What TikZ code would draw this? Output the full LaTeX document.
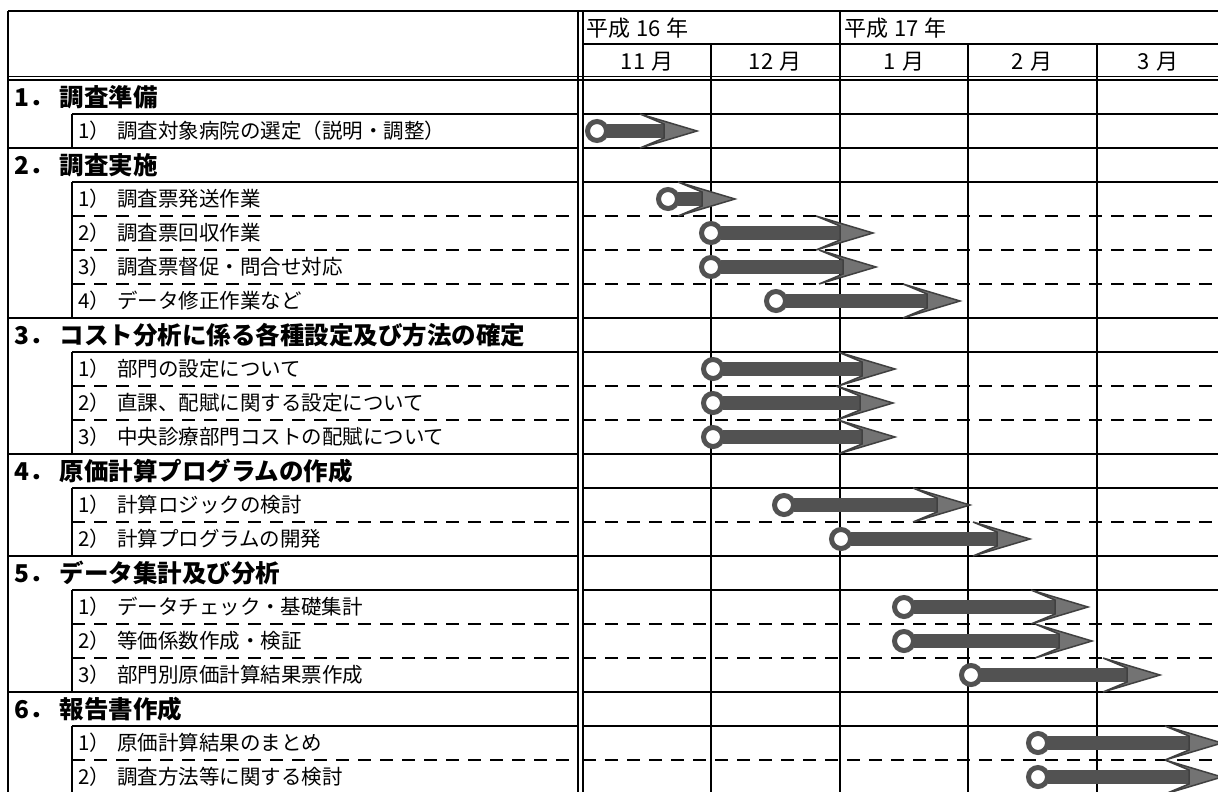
\documentclass[tikz,border=0pt]{standalone}
\usepackage{fontspec}
\newfontfamily\jp{Noto Sans CJK JP}
% #1 = left of ring, #2 = tip, #3 = row centre
\newcommand{\garrow}[3]{%
  \fill[gshaft] ({#1+21},{#3-7}) rectangle ({#2-33},{#3+7});
  \filldraw[ghead] ({#2-57},{#3-17}) -- (#2,#3) -- ({#2-57},{#3+17}) -- ({#2-33},{#3+7}) -- ({#2-33},{#3-7}) -- cycle;
  \draw[gring] ({#1+11},#3) circle (9.5pt);
}
\begin{document}
\begin{tikzpicture}[x=1pt,y=-1pt,
  tl/.style={line width=1.8pt},
  dl/.style={line width=1.8pt, dash pattern=on 13pt off 9pt},
  gtitle/.style={anchor=west, inner sep=0pt, font=\jp\bfseries\fontsize{24.5}{28}\selectfont},
  gsub/.style={anchor=west, inner sep=0pt, font=\jp\fontsize{20.5}{24}\selectfont},
  ghdr/.style={inner sep=0pt, font=\jp\fontsize{22}{25}\selectfont},
  gshaft/.style={fill=black!68},
  ghead/.style={fill=black!55, draw=black!75, line width=1.5pt},
  gring/.style={draw=black!68, line width=5pt, fill=white}]
\useasboundingbox (0,0) rectangle (1218,792);
\fill[white] (0,0) rectangle (1218,792);
\begin{scope}
\clip (0,0) rectangle (1218,792);
% header frame
\draw[line width=2.2pt] (8,11) -- (1218,11);
\draw[line width=2.2pt] (8,11) -- (8,792);
\draw[tl] (583,44) -- (1218,44);
\draw[line width=1.5pt] (8,76.5) -- (1218,76.5);
\draw[line width=1.5pt] (8,80) -- (1218,80);
\draw[line width=1.5pt] (578,11) -- (578,792);
\draw[line width=1.5pt] (583,11) -- (583,792);
\draw[tl] (840,11) -- (840,792);
\foreach \mx in {711,968,1097} { \draw[tl] (\mx,44) -- (\mx,792); }
% section tops
\foreach \k in {2,7,11,14,18} {
  \draw[tl] (8,{80+34*\k}) -- (578,{80+34*\k});
  \draw[tl] (583,{80+34*\k}) -- (1218,{80+34*\k});
}
% title bottoms
\foreach \k in {1,3,8,12,15,19} {
  \draw[tl] (72,{80+34*\k}) -- (578,{80+34*\k});
  \draw[tl] (583,{80+34*\k}) -- (1218,{80+34*\k});
}
% dashed separators
\foreach \k in {4,5,6,9,10,13,16,17,20} {
  \draw[dl] (72,{80+34*\k}) -- (578,{80+34*\k});
  \draw[dl] (583,{80+34*\k}) -- (1218,{80+34*\k});
}
% sub boxes
\foreach \a/\b in {1/2,3/7,8/11,12/14,15/18,19/21} {
  \draw[tl] (72,{80+34*\a}) -- (72,{80+34*\b});
}
% header texts
\node[ghdr, anchor=west] (h16) at (586,28) {平成\hspace{6pt}16\hspace{6pt}年};
\node[ghdr, anchor=west] (h17) at (844,28) {平成\hspace{6pt}17\hspace{6pt}年};
\node[ghdr] (m11) at (647,62) {11\hspace{6pt}月};
\node[ghdr] (m12) at (775,62) {12\hspace{6pt}月};
\node[ghdr] (m1) at (904,62) {1\hspace{6pt}月};
\node[ghdr] (m2) at (1032,62) {2\hspace{6pt}月};
\node[ghdr] (m3) at (1158,62) {3\hspace{6pt}月};
% row texts
\node[gtitle] (s1) at (14,97) {1．\hspace{6pt}調査準備};
\node[gsub] (s1a) at (78,131) {1）\hspace{7pt}調査対象病院の選定（説明・調整）};
\node[gtitle] (s2) at (14,165) {2．\hspace{6pt}調査実施};
\node[gsub] (s2a) at (78,199) {1）\hspace{7pt}調査票発送作業};
\node[gsub] (s2b) at (78,233) {2）\hspace{7pt}調査票回収作業};
\node[gsub] (s2c) at (78,267) {3）\hspace{7pt}調査票督促・問合せ対応};
\node[gsub] (s2d) at (78,301) {4）\hspace{7pt}データ修正作業など};
\node[gtitle] (s3) at (14,335) {3．\hspace{6pt}コスト分析に係る各種設定及び方法の確定};
\node[gsub] (s3a) at (78,369) {1）\hspace{7pt}部門の設定について};
\node[gsub] (s3b) at (78,403) {2）\hspace{7pt}直課、配賦に関する設定について};
\node[gsub] (s3c) at (78,437) {3）\hspace{7pt}中央診療部門コストの配賦について};
\node[gtitle] (s4) at (14,471) {4．\hspace{6pt}原価計算プログラムの作成};
\node[gsub] (s4a) at (78,505) {1）\hspace{7pt}計算ロジックの検討};
\node[gsub] (s4b) at (78,539) {2）\hspace{7pt}計算プログラムの開発};
\node[gtitle] (s5) at (14,573) {5．\hspace{6pt}データ集計及び分析};
\node[gsub] (s5a) at (78,607) {1）\hspace{7pt}データチェック・基礎集計};
\node[gsub] (s5b) at (78,641) {2）\hspace{7pt}等価係数作成・検証};
\node[gsub] (s5c) at (78,675) {3）\hspace{7pt}部門別原価計算結果票作成};
\node[gtitle] (s6) at (14,709) {6．\hspace{6pt}報告書作成};
\node[gsub] (s6a) at (78,743) {1）\hspace{7pt}原価計算結果のまとめ};
\node[gsub] (s6b) at (78,777) {2）\hspace{7pt}調査方法等に関する検討};
% gantt arrows
\garrow{586}{697}{131}
\garrow{657}{735}{199}
\garrow{700}{873}{233}
\garrow{700}{876}{267}
\garrow{765}{960}{301}
\garrow{702}{895}{369}
\garrow{702}{893}{403}
\garrow{702}{895}{437}
\garrow{773}{970}{505}
\garrow{830}{1030}{539}
\garrow{893}{1088}{607}
\garrow{893}{1092}{641}
\garrow{960}{1160}{675}
\garrow{1027}{1222}{743}
\garrow{1027}{1222}{777}
\end{scope}
\end{tikzpicture}
\end{document}
